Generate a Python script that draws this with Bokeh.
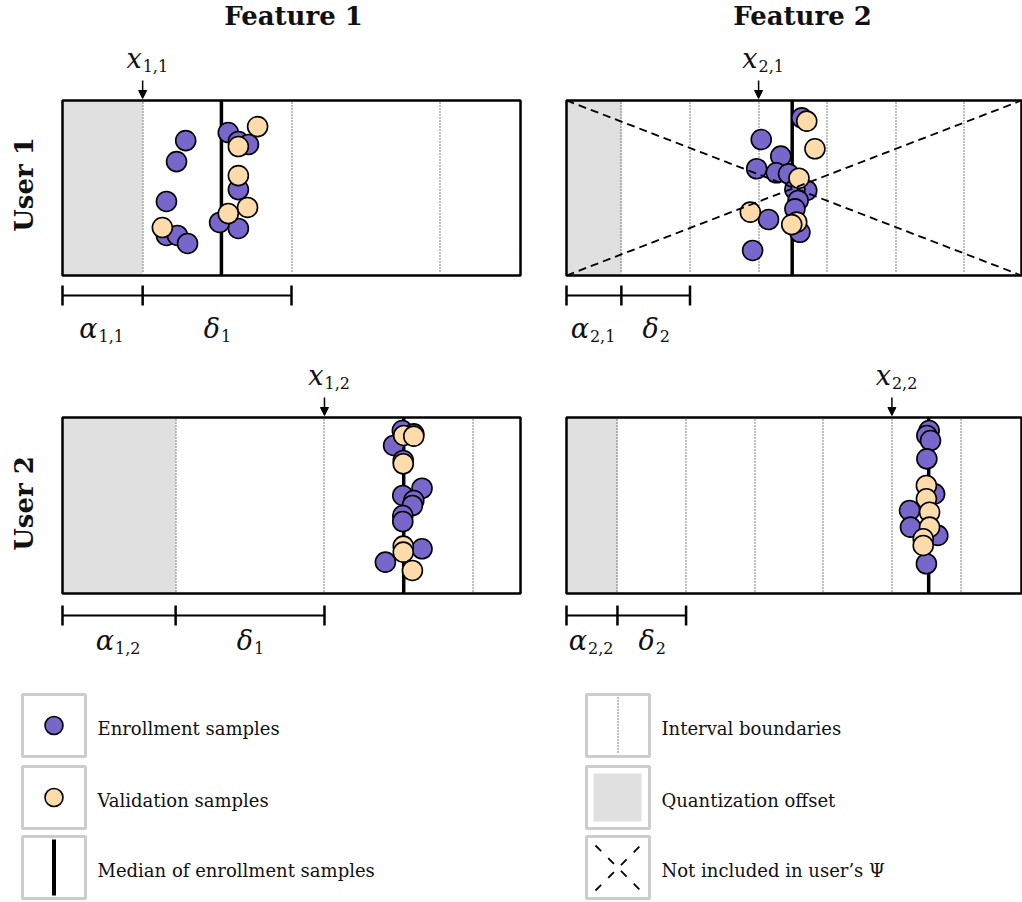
import numpy as np
from bokeh.plotting import figure
from bokeh.models import Range1d, Arrow, NormalHead
from bokeh.core.properties import value
from bokeh.embed import file_html
from bokeh.resources import INLINE

# ---------------- data ----------------
feature_names = ["Feature 1", "Feature 2"]
user_names = ["User 1", "User 2"]

# feature value axis runs 0..100 across each panel
delta = [32.5, 15.08]            # interval width δ_i per feature
alpha_u1 = [17.5, 12.06]         # quantization offset α_{i,1}
alpha_u2 = [24.7, 11.2]          # quantization offset α_{i,2}
x_interval_u1 = [0, 2]           # x_{i,1} = α_{i,1} + k·δ_i
x_interval_u2 = [1, 4]           # x_{i,2} = α_{i,2} + k·δ_i
median_u1 = [34.7, 49.6]
median_u2 = [74.5, 79.6]
excluded_u1 = [False, True]
excluded_u2 = [False, False]

# samples: feature value (0..100) and vertical jitter (0..1)
u1f1_enr_x = [26.9, 24.9, 22.7, 22.7, 25.1, 27.3, 36.2, 38.4, 40.6, 38.4, 34.3, 38.4]
u1f1_enr_y = [0.771, 0.651, 0.423, 0.229, 0.229, 0.183, 0.817, 0.766, 0.749, 0.491, 0.303, 0.269]
u1f1_val_x = [42.6, 38.4, 38.4, 40.4, 36.2, 21.8]
u1f1_val_y = [0.851, 0.737, 0.571, 0.389, 0.354, 0.274]

u1f2_enr_x = [51.7, 42.8, 47.1, 41.8, 46.1, 48.8, 52.8, 50.2, 50.9, 50.2, 44.4, 51.3, 40.9]
u1f2_enr_y = [0.901, 0.777, 0.682, 0.610, 0.587, 0.581, 0.486, 0.491, 0.429, 0.381, 0.320, 0.247, 0.143]
u1f2_val_x = [52.8, 54.6, 51.1, 40.4, 50.6, 49.5]
u1f2_val_y = [0.882, 0.724, 0.556, 0.362, 0.305, 0.291]

u2f1_enr_x = [74.2, 76.7, 72.3, 74.4, 78.5, 74.3, 76.7, 76.4, 74.3, 74.3, 78.5, 70.5]
u2f1_enr_y = [0.926, 0.907, 0.841, 0.756, 0.598, 0.557, 0.528, 0.500, 0.443, 0.409, 0.254, 0.178]
u2f1_val_x = [74.5, 76.7, 74.4, 74.4, 74.4, 76.4]
u2f1_val_y = [0.898, 0.894, 0.737, 0.269, 0.235, 0.131]

u2f2_enr_x = [79.7, 79.2, 80.0, 79.2, 80.9, 75.4, 75.6, 81.6, 79.1]
u2f2_enr_y = [0.926, 0.898, 0.869, 0.765, 0.566, 0.472, 0.377, 0.330, 0.169]
u2f2_val_x = [79.1, 79.1, 79.8, 79.8, 78.4, 78.4]
u2f2_val_y = [0.614, 0.538, 0.462, 0.377, 0.311, 0.273]

legend_left = ["Enrollment samples", "Validation samples", "Median of enrollment samples"]
legend_right = ["Interval boundaries", "Quantization offset", "Not included in user\u2019s \u03a8"]

# ---------------- layout / style ----------------
W, H = 1022, 902
col_left = [62, 566]
col_width = [458, 455]
row_top = [100, 417]
row_height = [175, 176]
PURPLE = "#7866cb"
ORANGE = "#fddbab"
SHADE = "#e0e0e0"
SERIF = "DejaVu Serif"
BASE_K = 0.38  # baseline correction factor (fraction of font size)

p = figure(width=W, height=H, x_range=Range1d(0, W), y_range=Range1d(0, H),
           x_axis_type=None, y_axis_type=None, output_backend="svg",
           toolbar_location=None, min_border=0)
p.grid.visible = False
p.outline_line_color = None
p.background_fill_color = "white"


def X(col, v):
    return col_left[col] + np.asarray(v, dtype=float) * col_width[col] / 100.0


def Ys(row, f):
    return H - (row_top[row] + (1 - np.asarray(f, dtype=float)) * row_height[row])


def Y(py):
    return H - np.asarray(py, dtype=float)


def TB(py, size):
    return H - (np.asarray(py, dtype=float) - BASE_K * size)


samples = {
    (0, 0): (u1f1_enr_x, u1f1_enr_y, u1f1_val_x, u1f1_val_y),
    (0, 1): (u1f2_enr_x, u1f2_enr_y, u1f2_val_x, u1f2_val_y),
    (1, 0): (u2f1_enr_x, u2f1_enr_y, u2f1_val_x, u2f1_val_y),
    (1, 1): (u2f2_enr_x, u2f2_enr_y, u2f2_val_x, u2f2_val_y),
}
alphas = [alpha_u1, alpha_u2]
x_int = [x_interval_u1, x_interval_u2]
medians = [median_u1, median_u2]
excluded = [excluded_u1, excluded_u2]

MAIN_FS, SUB_FS = 27, 16
main_x, main_y, main_t = [], [], []
sub_x, sub_y, sub_t = [], [], []


def math_label(split_x, base_py, main, sub, drop=4):
    main_x.append(split_x); main_y.append(float(TB(base_py, MAIN_FS))); main_t.append(main)
    sub_x.append(split_x + 1); sub_y.append(float(TB(base_py + drop, SUB_FS))); sub_t.append(sub)


bracket_py = [295, 615]
label_py = [338, 650]
xlab_py = [68, 385]

for r in range(2):
    for c in range(2):
        left = col_left[c]
        right = left + col_width[c]
        top = H - row_top[r]
        bot = H - (row_top[r] + row_height[r])
        a = alphas[r][c]
        d = delta[c]
        # quantization offset shading
        p.quad(left=[left], right=[X(c, a)], top=[top], bottom=[bot],
               fill_color=SHADE, line_color=None)
        # interval boundaries (snapped to pixel centres for crisp dots)
        bnds = []
        k = 0
        while a + k * d < 100:
            bnds.append(a + k * d)
            k += 1
        bx = np.floor(X(c, bnds)) + 0.5
        p.segment(x0=bx, x1=bx, y0=[top - 2] * len(bx), y1=[bot + 2] * len(bx),
                  line_color="black", line_width=1, line_dash="1 2")
        # median line
        mx = float(X(c, medians[r][c]))
        p.segment(x0=[mx], x1=[mx], y0=[top], y1=[bot], line_color="black", line_width=3.5)
        # samples
        ex, ey, vx, vy = samples[(r, c)]
        p.scatter(X(c, ex), Ys(r, ey), size=20, fill_color=PURPLE, line_color="black", line_width=1.6)
        p.scatter(X(c, vx), Ys(r, vy), size=20, fill_color=ORANGE, line_color="black", line_width=1.6)
        # excluded feature marker
        if excluded[r][c]:
            p.segment(x0=[left, left], y0=[top, bot], x1=[right, right], y1=[bot, top],
                      line_color="black", line_width=1.8, line_dash="8 5")
        # frame
        p.quad(left=[left], right=[right], top=[top], bottom=[bot],
               fill_color=None, line_color="black", line_width=2.5)
        # x_{i,j} arrow + label
        xa = float(X(c, a + x_int[r][c] * d))
        p.add_layout(Arrow(end=NormalHead(size=8, fill_color="black", line_color="black"),
                           x_start=xa, y_start=top + 20, x_end=xa, y_end=top + 2,
                           line_color="black", line_width=1.5))
        math_label(xa - 1, xlab_py[r], "x", f"{c + 1},{r + 1}")
        # brackets
        by = H - bracket_py[r]
        ticks = [left, float(X(c, a)), float(X(c, a + d))]
        p.segment(x0=[ticks[0]], x1=[ticks[2]], y0=[by], y1=[by], line_color="black", line_width=2)
        p.segment(x0=ticks, x1=ticks, y0=[by - 10] * 3, y1=[by + 10] * 3, line_color="black", line_width=2.5)
        m1 = (ticks[0] + ticks[1]) / 2
        m2 = (ticks[1] + ticks[2]) / 2
        math_label(m1 - 5, label_py[r], "\u03b1", f"{c + 1},{r + 1}")
        math_label(m2 + 3, label_py[r], "\u03b4", f"{c + 1}")

p.text(x=main_x, y=main_y, text=main_t, text_font=value(SERIF), text_font_style="italic",
       text_font_size=f"{MAIN_FS}px", text_align="right", text_baseline="alphabetic", text_color="#111111")
p.text(x=sub_x, y=sub_y, text=sub_t, text_font=value(SERIF),
       text_font_size=f"{SUB_FS}px", text_align="left", text_baseline="alphabetic", text_color="#111111")

# column titles
p.text(x=[293, 802], y=list(TB([25, 25], 26)), text=feature_names, text_font=value(SERIF),
       text_font_style="bold", text_font_size="26px", text_align="center",
       text_baseline="alphabetic", text_color="#111111")
# row titles (rotated: baseline offset acts horizontally)
p.text(x=[33 - BASE_K * 26] * 2, y=[H - 184, H - 503], text=user_names, text_font=value(SERIF),
       text_font_style="bold", text_font_size="26px", text_align="center",
       text_baseline="alphabetic", angle=np.pi / 2, text_color="#111111")

# ---------------- legend ----------------
box_top = [694, 766, 836]
box_h = 62
for lx in (22, 586):
    p.quad(left=[lx] * 3, right=[lx + 63] * 3, top=list(Y(box_top)),
           bottom=list(Y(np.array(box_top) + box_h)), fill_color="white",
           line_color="#cccccc", line_width=3)
# left icons
p.scatter([53.5], Y([725]), size=18, fill_color=PURPLE, line_color="black", line_width=1.6)
p.scatter([53.5], Y([797]), size=18, fill_color=ORANGE, line_color="black", line_width=1.6)
p.segment(x0=[53.5], x1=[53.5], y0=Y([839]), y1=Y([895]), line_color="black", line_width=4)
# right icons
p.segment(x0=[617.5], x1=[617.5], y0=Y([697]), y1=Y([752]), line_color="black",
          line_width=1, line_dash="1 2")
p.quad(left=[593], right=[641], top=Y([773]), bottom=Y([821]), fill_color=SHADE, line_color=None)
p.segment(x0=[595, 595], y0=Y([845, 890]), x1=[640, 640], y1=Y([890, 845]),
          line_color="black", line_width=1.8, line_dash="8 10")

text_base = [735, 807, 877]
p.text(x=[97] * 3, y=TB(text_base, 18), text=legend_left, text_font=value(SERIF),
       text_font_size="18px", text_baseline="alphabetic", text_color="#111111")
p.text(x=[661] * 3, y=TB(text_base, 18), text=legend_right, text_font=value(SERIF),
       text_font_size="18px", text_baseline="alphabetic", text_color="#111111")

open("out.html", "w").write(file_html(p, INLINE))
